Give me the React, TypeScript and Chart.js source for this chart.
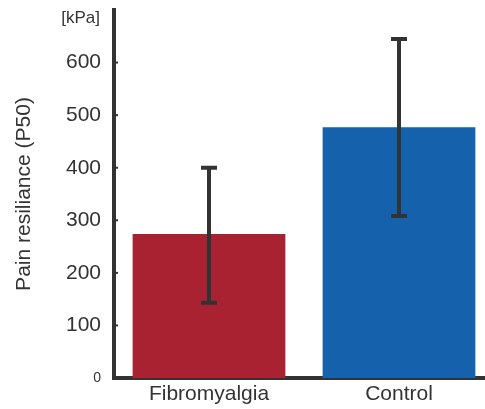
import React, { useEffect, useRef } from "react";
import { Chart, registerables } from "chart.js";

Chart.register(...registerables);

const categories = ["Fibromyalgia", "Control"];
const means = [274, 477];
const errLow = [143, 308];
const errHigh = [400, 645];
const barColors = ["#A92232", "#1661AC"];
const yTicks = [0, 100, 200, 300, 400, 500, 600, 700];
const unitLabel = "[kPa]";
const yTitle = "Pain resiliance (P50)";

const FONT = "'Liberation Sans', Arial, sans-serif";
const INK = "#333333";

const extrasPlugin = {
  id: "extras",
  afterDatasetsDraw(chart: any) {
    const ctx = chart.ctx;
    const y = chart.scales.y;
    const meta = chart.getDatasetMeta(0);
    ctx.save();
    ctx.strokeStyle = INK;
    ctx.lineWidth = 4;
    ctx.lineCap = "butt";
    meta.data.forEach((bar: any, i: number) => {
      const x = bar.x;
      const yl = y.getPixelForValue(errLow[i]);
      const yh = y.getPixelForValue(errHigh[i]);
      ctx.beginPath();
      ctx.moveTo(x, yl);
      ctx.lineTo(x, yh);
      ctx.moveTo(x - 8, yl);
      ctx.lineTo(x + 8, yl);
      ctx.moveTo(x - 8, yh);
      ctx.lineTo(x + 8, yh);
      ctx.stroke();
    });
    // inward tick marks
    ctx.lineWidth = 2;
    const left = chart.chartArea.left;
    yTicks.forEach((v) => {
      if (v === 0 || v === 700) return;
      const py = y.getPixelForValue(v);
      ctx.beginPath();
      ctx.moveTo(left, py);
      ctx.lineTo(left + 4, py);
      ctx.stroke();
    });
    // unit label
    ctx.fillStyle = INK;
    ctx.font = `17px ${FONT}`;
    ctx.textAlign = "right";
    ctx.textBaseline = "middle";
    ctx.fillText(unitLabel, 100, 18);
    ctx.restore();
  },
};

export default function App() {
  const ref = useRef<HTMLCanvasElement | null>(null);
  useEffect(() => {
    if (!ref.current) return;
    const chart = new Chart(ref.current, {
      type: "bar",
      data: {
        labels: categories,
        datasets: [
          {
            data: means,
            backgroundColor: barColors,
            borderWidth: 0,
            barPercentage: 0.804,
            categoryPercentage: 1,
          },
        ],
      },
      options: {
        animation: false,
        responsive: false,
        layout: { padding: { top: 10, left: 0, right: 0, bottom: 0 } },
        plugins: { legend: { display: false }, tooltip: { enabled: false } },
        scales: {
          x: {
            grid: { display: false, drawTicks: false },
            border: { display: true, color: INK, width: 4 },
            ticks: {
              color: INK,
              font: { family: FONT, size: 21 },
              padding: 4,
            },
            afterFit: (s: any) => {
              s.height = 31;
              s.paddingLeft = 0;
              s.paddingRight = 0;
            },
          },
          y: {
            min: 0,
            max: 700,
            afterBuildTicks: (s: any) => {
              s.ticks = yTicks.map((v) => ({ value: v }));
            },
            grid: { display: false, drawTicks: false },
            border: { display: true, color: INK, width: 4 },
            ticks: {
              color: INK,
              padding: 13,
              font: (c: any) =>
                c.tick && c.tick.value === 0
                  ? { family: FONT, size: 14 }
                  : { family: FONT, size: 21 },
              callback: (v: any) => (v === 700 ? "" : String(v)),
            },
            title: {
              display: true,
              text: yTitle,
              color: INK,
              font: { family: FONT, size: 21 },
              padding: { top: 12, bottom: 0 },
            },
            afterFit: (s: any) => {
              s.width = 114;
              s.paddingTop = 0;
              s.paddingBottom = 0;
            },
          },
        },
      },
      plugins: [extrasPlugin],
    });
    return () => chart.destroy();
  }, []);
  return (
    <div
      style={{
        position: "fixed",
        left: 0,
        top: 0,
        width: 485,
        height: 409,
        overflow: "hidden",
        background: "#fff",
      }}
    >
      <canvas ref={ref} width={494} height={409} style={{ display: "block" }} />
    </div>
  );
}
